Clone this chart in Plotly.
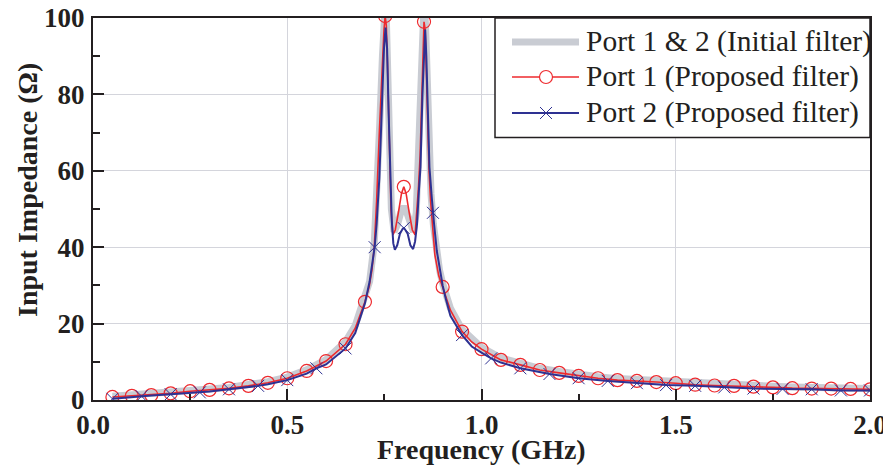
import plotly.graph_objects as go

# ---------------- data ----------------
# Port 1 & 2, initial filter (thick grey curve)
gray_f = [0.05, 0.10, 0.15, 0.20, 0.25, 0.30, 0.35, 0.40, 0.45, 0.50, 0.55, 0.60, 0.65,
          0.675, 0.70, 0.712, 0.724, 0.731, 0.738, 0.745, 0.750, 0.752, 0.755, 0.759,
          0.763, 0.768, 0.775, 0.784, 0.792, 0.80, 0.808, 0.816, 0.825, 0.832, 0.837,
          0.842, 0.847, 0.851, 0.853, 0.856, 0.860, 0.865, 0.870, 0.876, 0.884, 0.892,
          0.90, 0.92, 0.95, 1.0, 1.05, 1.10, 1.15, 1.20, 1.25, 1.30, 1.35, 1.40, 1.45,
          1.50, 1.55, 1.60, 1.65, 1.70, 1.75, 1.80, 1.85, 1.90, 1.95, 2.00]
gray_z = [1.0, 1.3, 1.6, 2.0, 2.5, 2.9, 3.3, 3.9, 4.8, 6.0, 7.9, 10.6, 15.3,
          19.5, 26.5, 31, 41, 54, 72, 90, 100, 103, 100, 84,
          64, 50, 44, 46, 49, 50.6, 49, 46, 44, 49, 60,
          74, 90, 101, 103, 98, 82, 66, 54, 46, 39, 34,
          30.5, 24, 18.5, 13.8, 11.0, 9.6, 8.3, 7.5, 6.7, 6.1, 5.6, 5.3, 5.0,
          4.7, 4.4, 4.2, 4.0, 3.8, 3.6, 3.4, 3.3, 3.2, 3.1, 3.0]

# Port 1, proposed filter (red curve)
red_f = [0.05, 0.10, 0.15, 0.20, 0.25, 0.30, 0.35, 0.40, 0.45, 0.50, 0.55, 0.60, 0.65,
         0.675, 0.70, 0.711, 0.718, 0.724, 0.730, 0.737, 0.744, 0.749, 0.752, 0.755,
         0.758, 0.760, 0.763, 0.767, 0.772, 0.778, 0.786, 0.794, 0.80, 0.806, 0.814,
         0.822, 0.829, 0.834, 0.838, 0.842, 0.846, 0.850, 0.852, 0.855, 0.858, 0.861,
         0.865, 0.869, 0.874, 0.880, 0.890, 0.90, 0.92, 0.95, 0.975, 1.0, 1.05, 1.10,
         1.15, 1.20, 1.25, 1.30, 1.35, 1.40, 1.45, 1.50, 1.55, 1.60, 1.65, 1.70, 1.75,
         1.80, 1.85, 1.90, 1.95, 2.00]
red_z = [0.8, 1.1, 1.3, 1.75, 2.3, 2.65, 3.05, 3.7, 4.5, 5.7, 7.6, 10.2, 14.6,
         18.8, 25.7, 29.7, 34, 40, 52, 70, 87, 97, 100.5, 98,
         88, 78.5, 61, 50, 43.2, 44.5, 49, 54, 55.8, 54, 49,
         44.5, 43.2, 50, 56, 64, 78.5, 92, 99, 97, 86, 74,
         60, 52, 45, 38, 32.5, 29.6, 23.5, 17.9, 15.2, 13.3, 10.5, 9.2,
         7.85, 7.1, 6.3, 5.7, 5.2, 5.0, 4.7, 4.4, 4.0, 3.8, 3.7, 3.5, 3.3,
         3.1, 3.0, 3.0, 2.9, 2.8]
red_marker_f = [0.05, 0.10, 0.15, 0.20, 0.25, 0.30, 0.35, 0.40, 0.45, 0.50, 0.55, 0.60,
                0.65, 0.70, 0.752, 0.80, 0.852, 0.90, 0.95, 1.0, 1.05, 1.10, 1.15, 1.20,
                1.25, 1.30, 1.35, 1.40, 1.45, 1.50, 1.55, 1.60, 1.65, 1.70, 1.75, 1.80,
                1.85, 1.90, 1.95, 2.00]

# Port 2, proposed filter (blue curve)
blue_f = [0.05, 0.10, 0.125, 0.15, 0.20, 0.25, 0.275, 0.30, 0.35, 0.40, 0.425, 0.45,
          0.50, 0.55, 0.575, 0.60, 0.65, 0.675, 0.70, 0.712, 0.725, 0.730, 0.737, 0.744,
          0.749, 0.753, 0.757, 0.761, 0.765, 0.769, 0.773, 0.777, 0.783, 0.790, 0.797,
          0.80, 0.803, 0.810, 0.817, 0.824, 0.829, 0.834, 0.839, 0.843, 0.848, 0.852,
          0.855, 0.858, 0.861, 0.866, 0.872, 0.875, 0.878, 0.885, 0.893, 0.90, 0.908,
          0.92, 0.95, 0.975, 1.0, 1.025, 1.05, 1.10, 1.175, 1.25, 1.325, 1.40, 1.475,
          1.55, 1.625, 1.70, 1.775, 1.85, 1.925, 2.00]
blue_z = [0.3, 0.8, 1.0, 1.15, 1.5, 1.8, 2.0, 2.25, 2.8, 3.35, 3.7, 4.1,
          5.2, 6.9, 8.3, 9.3, 13.5, 17.5, 25.3, 31, 40, 46, 58, 78,
          92, 97.5, 92, 75, 58, 47, 41, 39.3, 40.5, 43.5, 44.8,
          45, 44.7, 43.5, 40.5, 39.5, 41.5, 46, 55, 61, 80, 93,
          97, 90, 78, 61, 53, 49, 46, 39, 33.5, 30, 26.5,
          22, 17, 14, 12.4, 10.9, 9.8, 8.3, 6.8, 5.7, 5.0, 4.4, 3.9,
          3.7, 3.3, 3.0, 2.9, 2.8, 2.5, 2.5]
blue_marker_f = [0.05, 0.125, 0.20, 0.275, 0.35, 0.425, 0.50, 0.575, 0.65, 0.725, 0.80,
                 0.875, 0.95, 1.025, 1.10, 1.175, 1.25, 1.325, 1.40, 1.475, 1.55, 1.625,
                 1.70, 1.775, 1.85, 1.925, 2.00]

series_names = ["Port 1 & 2 (Initial filter)", "Port 1 (Proposed filter)",
                "Port 2 (Proposed filter)"]
x_title = "Frequency (GHz)"
y_title = "Input Impedance (Ω)"
x_ticks = [0.0, 0.5, 1.0, 1.5, 2.0]
x_tick_text = ["0.0", "0.5", "1.0", "1.5", "2.0"]
y_ticks = [0, 20, 40, 60, 80, 100]

red_lookup = dict(zip(red_f, red_z))
blue_lookup = dict(zip(blue_f, blue_z))
red_marker_z = [red_lookup[f] for f in red_marker_f]
blue_marker_z = [blue_lookup[f] for f in blue_marker_f]

# ---------------- styling ----------------
GRAY = "#c9ccd3"
RED = "#ee2a2e"
BLUE = "#2e3192"
INK = "#231f20"
FONT = "Liberation Serif"

W, H = 891, 470
OFF = 8                       # page body margin of the browser
PL, PR, PT, PB = 93, 870, 18, 400   # plot area in window pixels
ML, MT = PL - OFF, PT - OFF
MR, MB = W - (PR - OFF), H - (PB - OFF)
PW, PH = PR - PL, PB - PT


def px(xp):  # window pixel x -> paper x
    return (xp - PL) / PW


def py(yp):  # window pixel y -> paper y
    return (PB - yp) / PH


fig = go.Figure()
fig.add_trace(go.Scatter(x=gray_f, y=gray_z, mode="lines", name=series_names[0],
                         line=dict(color=GRAY, width=7)))
fig.add_trace(go.Scatter(x=red_f, y=red_z, mode="lines", name=series_names[1],
                         line=dict(color=RED, width=1.6)))
fig.add_trace(go.Scatter(x=red_marker_f, y=red_marker_z, mode="markers",
                         name=series_names[1],
                         marker=dict(symbol="circle-open", size=13, color=RED,
                                     line=dict(width=1.2, color=RED))))
fig.add_trace(go.Scatter(x=blue_f, y=blue_z, mode="lines", name=series_names[2],
                         line=dict(color=BLUE, width=2)))
fig.add_trace(go.Scatter(x=blue_marker_f, y=blue_marker_z, mode="markers",
                         name=series_names[2],
                         marker=dict(symbol="x-thin-open", size=12, color=BLUE,
                                     line=dict(width=1, color=BLUE))))

# ---------------- custom legend (box, symbols, texts) ----------------
shapes = []
annotations = []
box_l, box_b = 495, 137.5
shapes.append(dict(type="rect", xref="paper", yref="paper", layer="above",
                   x0=px(box_l), x1=1, y0=py(box_b), y1=1,
                   fillcolor="white", line=dict(color=INK, width=1.5)))
row_y = [42, 77, 113]
sym_x0, sym_x1, txt_x = 512, 579, 584
sym_c = 546
legend_styles = [(GRAY, 7), (RED, 1.6), (BLUE, 2)]
for i, (col, wid) in enumerate(legend_styles):
    shapes.append(dict(type="line", xref="paper", yref="paper", layer="above",
                       x0=px(sym_x0), x1=px(sym_x1), y0=py(row_y[i]), y1=py(row_y[i]),
                       line=dict(color=col, width=wid)))
    annotations.append(dict(xref="paper", yref="paper", x=px(txt_x), y=py(row_y[i]),
                            xanchor="left", yanchor="middle", showarrow=False,
                            text=series_names[i],
                            font=dict(family=FONT, size=29.5, color=INK)))
# red open circle symbol
shapes.append(dict(type="circle", xref="paper", yref="paper", layer="above",
                   xsizemode="pixel", ysizemode="pixel",
                   xanchor=px(sym_c), yanchor=py(row_y[1]),
                   x0=-6.5, x1=6.5, y0=-6.5, y1=6.5,
                   fillcolor="white", line=dict(color=RED, width=1.2)))
# blue cross symbol
for sgn in (1, -1):
    shapes.append(dict(type="line", xref="paper", yref="paper", layer="above",
                       xsizemode="pixel", ysizemode="pixel",
                       xanchor=px(sym_c), yanchor=py(row_y[2]),
                       x0=-6, x1=6, y0=-6 * sgn, y1=6 * sgn,
                       line=dict(color=BLUE, width=1)))

# axis titles
annotations.append(dict(xref="paper", yref="paper", x=0.5, y=py(449),
                        xanchor="center", yanchor="middle", showarrow=False,
                        text=x_title,
                        font=dict(family=FONT, size=28, color=INK, weight="bold")))
annotations.append(dict(xref="paper", yref="paper", x=px(27), y=py(190),
                        xanchor="center", yanchor="middle", showarrow=False,
                        textangle=-90, text=y_title,
                        font=dict(family=FONT, size=28, color=INK, weight="bold")))

axis_common = dict(showline=True, linewidth=2, linecolor=INK, mirror=True,
                   ticks="inside", tickwidth=2, tickcolor=INK, ticklen=11,
                   showgrid=True, gridcolor="#d4d5dc", gridwidth=1, zeroline=False,
                   automargin=False, ticklabeloverflow="allow",
                   tickfont=dict(family=FONT, size=27, color=INK, weight="bold"))

fig.update_xaxes(range=[0, 2], tickvals=x_ticks, ticktext=x_tick_text,
                 ticklabelstandoff=0,
                 minor=dict(ticks="inside", dtick=0.25, tick0=0, ticklen=6,
                            tickwidth=2, tickcolor=INK, showgrid=False),
                 **axis_common)
fig.update_yaxes(range=[0, 100], tickvals=y_ticks, ticklabelstandoff=1,
                 minor=dict(ticks="inside", dtick=10, tick0=0, ticklen=7,
                            tickwidth=2, tickcolor=INK, showgrid=False),
                 **axis_common)

fig.update_layout(
    width=W, height=H,
    margin=dict(l=ML, r=MR, t=MT, b=MB, autoexpand=False),
    plot_bgcolor="white", paper_bgcolor="white",
    font=dict(family=FONT, color=INK),
    showlegend=False,
    shapes=shapes, annotations=annotations,
)

fig.write_html("out.html")
